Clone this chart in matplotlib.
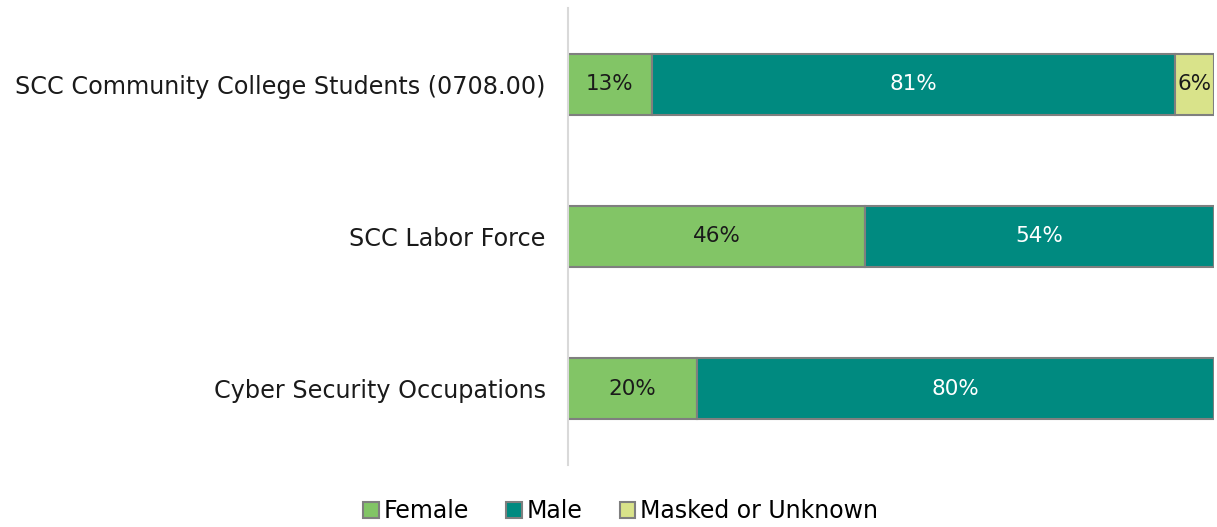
import matplotlib
matplotlib.use("Agg")
import matplotlib.pyplot as plt
from matplotlib.patches import Patch

categories = ["SCC Community College Students (0708.00)", "SCC Labor Force", "Cyber Security Occupations"]
female = [13, 46, 20]
male = [81, 54, 80]
masked = [6, 0, 0]

series = [("Female", female, "#82c566", "#1a1a1a"),
          ("Male", male, "#008a80", "white"),
          ("Masked or Unknown", masked, "#d9e38a", "#1a1a1a")]

plt.rcParams["font.family"] = ["DejaVu Sans"]

fig = plt.figure(figsize=(12.17, 5.27), dpi=100)
ax = fig.add_axes([0.4667, 0.1176, 0.5308, 0.8674])

ypos = [2, 1, 0]
left = [0, 0, 0]
for name, vals, color, tcolor in series:
    bars = ax.barh(ypos, vals, left=left, height=0.4, color=color,
                   edgecolor="#7f7f7f", linewidth=1.5, label=name)
    for b, v, l in zip(bars, vals, left):
        if v > 0:
            ax.text(l + v / 2, b.get_y() + b.get_height() / 2, f"{v}%",
                    ha="center", va="center", fontsize=15.5, color=tcolor)
    left = [l + v for l, v in zip(left, vals)]

ax.set_xlim(0, 100)
ax.set_ylim(-0.5, 2.5)
ax.set_yticks(ypos)
ax.set_yticklabels(categories, fontsize=17.2, color="#1a1a1a")
ax.tick_params(axis="y", length=0, pad=16)
ax.set_xticks([])
for s in ["top", "right", "bottom"]:
    ax.spines[s].set_visible(False)
ax.spines["left"].set_color("#d9d9d9")
ax.spines["left"].set_linewidth(1.5)

handles = [Patch(facecolor=c, edgecolor="#7f7f7f", linewidth=1.5, label=n) for n, _, c, _ in series]
fig.legend(handles=handles, loc="lower center", bbox_to_anchor=(0.51, -0.033), ncol=3,
           frameon=False, fontsize=17, handlelength=0.65, handleheight=0.65,
           handletextpad=0.2, columnspacing=1.6)

fig.savefig("out.png", dpi=100)
